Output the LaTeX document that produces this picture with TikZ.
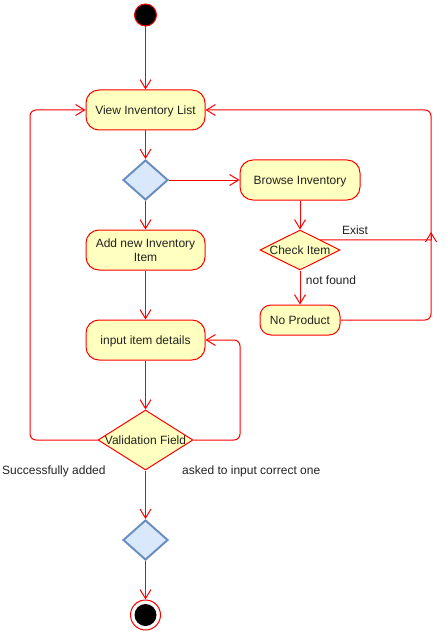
\documentclass[tikz,border=0pt]{standalone}
\usepackage{fontspec}
\setmainfont{Liberation Sans}
\usetikzlibrary{shapes.geometric,arrows.meta}
\definecolor{actfill}{HTML}{FFFFC0}
\definecolor{decfill}{HTML}{DAE8FC}
\definecolor{decdraw}{HTML}{6C8EBF}
\definecolor{txt}{HTML}{222222}
\begin{document}
\begin{tikzpicture}[x=1pt,y=-1pt,
  every node/.style={font=\fontsize{12}{14}\selectfont, text=txt},
  act/.style={draw=red, fill=actfill, line width=1pt, rounded corners=13pt, minimum width=119pt, minimum height=40pt, inner sep=0pt, align=center, text depth=0pt},
  dec/.style={diamond, draw=decdraw, fill=decfill, line width=2pt, minimum width=45pt, minimum height=40pt, inner sep=0pt},
  cond/.style={diamond, draw=red, fill=actfill, line width=1pt, inner sep=0pt},
  flow/.style={draw=red, line width=1pt, rounded corners=6pt, -{Straight Barb[length=9pt,width=11pt,line width=1pt]}},
  plain/.style={draw=red, line width=1pt, rounded corners=6pt},
  lbl/.style={inner sep=0pt},
  clbl/.style={inner sep=0pt, text depth=0pt}
]
\useasboundingbox (0,0) rectangle (445,631);
% start
\node[circle, draw=red, fill=black, line width=1pt, minimum size=22pt, inner sep=0pt] (start) at (145.5,15) {};
% activities
\node[act] (view) at (145.5,110) {View Inventory List};
\node[dec] (d1) at (145.5,180) {};
\node[act, minimum width=120pt] (browse) at (300,180) {Browse Inventory};
\node[cond, minimum width=80pt, minimum height=40pt, label={[clbl]center:Check Item}] (check) at (300,250) {};
\node[act, minimum width=80pt, minimum height=30pt, rounded corners=11pt] (noprod) at (300,320) {No Product};
\node[act] (add) at (145.5,250) {Add new Inventory\\Item};
\node[act] (input) at (145.5,340) {input item details};
\node[cond, minimum width=95pt, minimum height=60pt, label={[clbl]center:Validation Field}] (valid) at (145.5,440) {};
\node[dec] (d2) at (145.5,540) {};
% end
\node[circle, draw=red, fill=white, line width=1pt, minimum size=30pt, inner sep=0pt] (end) at (145.5,615) {};
\node[circle, fill=black, minimum size=22pt, inner sep=0pt] (endin) at (end.center) {};
% coordinates
\coordinate (exend) at (431,240);
\coordinate (rtop) at (431,110);
\coordinate (rbot) at (431,320);
\coordinate (ltop) at (30,110);
\coordinate (lbot) at (30,440);
\coordinate (vrt) at (240,440);
\coordinate (vrtop) at (240,340);
% connectors
\draw[flow] (start) -- (view);
\draw[flow] (view) -- (d1.north);
\draw[flow] (d1.east) -- (browse.west);
\draw[flow] (d1.south) -- (add.north);
\draw[flow] (browse.south) -- (check.north);
\draw[flow] (check.south) -- (noprod.north);
\draw[plain] (check.north east) -- (exend);
\draw[flow, rounded corners=0pt] (exend) -- ++(0,-8);
\draw[flow] (noprod.east) -- (rbot) -- (rtop) -- (view.east);
\draw[flow] (add.south) -- (input.north);
\draw[flow] (input.south) -- (valid.north);
\draw[flow] (valid.west) -- (lbot) -- (ltop) -- (view.west);
\draw[flow] (valid.east) -- (vrt) -- (vrtop) -- (input.east);
\draw[flow] (valid.south) -- (d2.north);
\draw[flow] (d2.south) -- (end.north);
% labels
\node[clbl] (lexist) at (355,230) {Exist};
\node[clbl] (lnot) at (331,280) {not found};
\node[clbl, anchor=west] (lsucc) at (2,470) {Successfully added};
\node[clbl, anchor=west] (lask) at (182,470) {asked to input correct one};
\end{tikzpicture}
\end{document}
